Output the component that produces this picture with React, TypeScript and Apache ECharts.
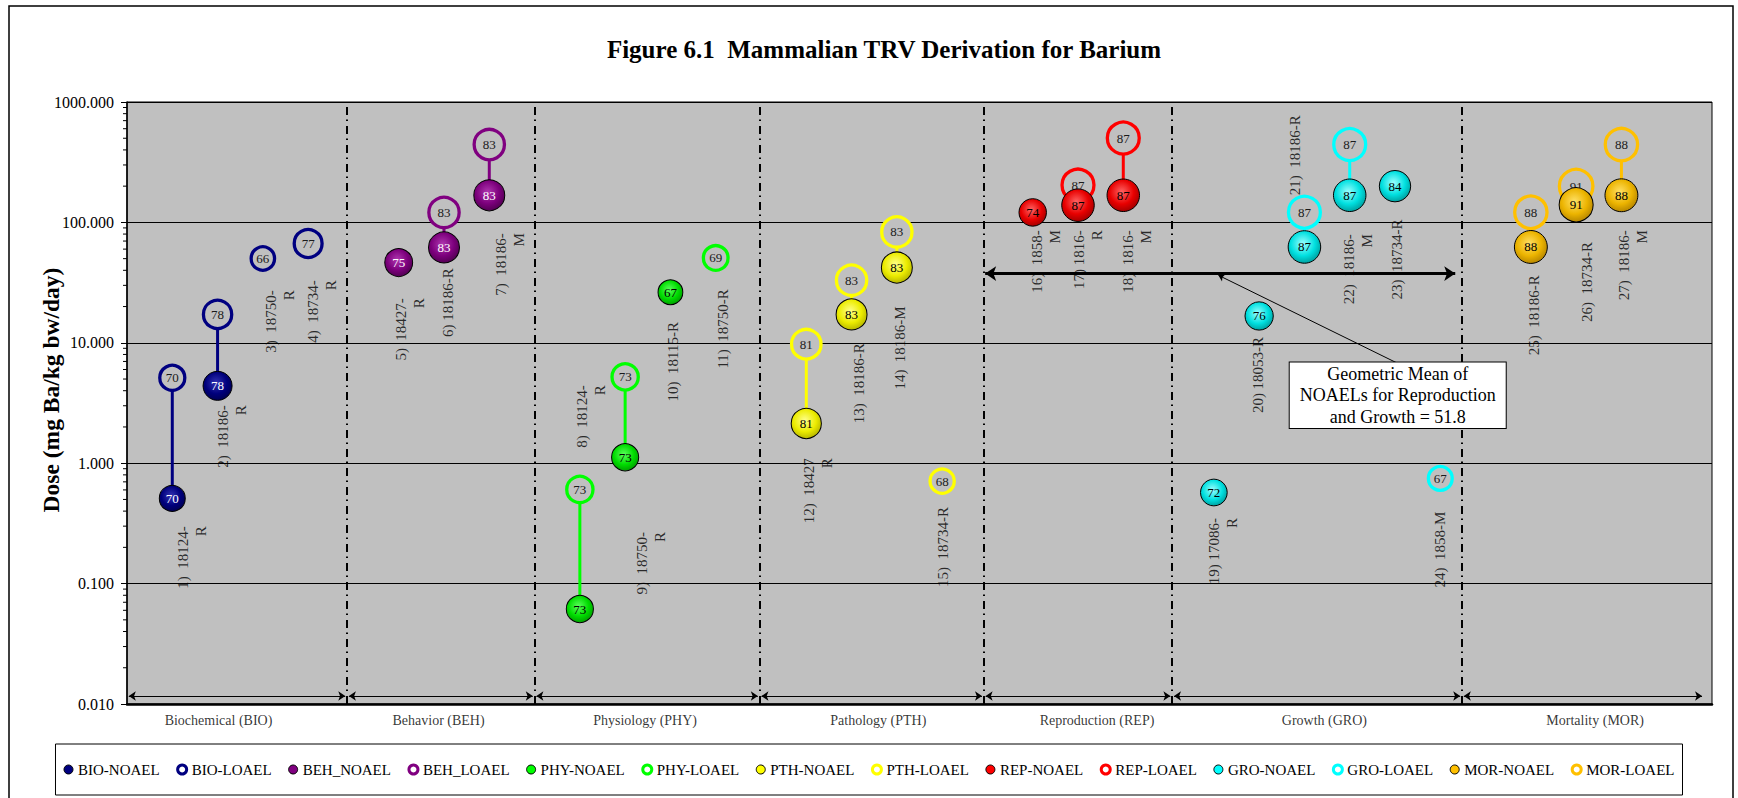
import React, { useEffect, useRef } from "react";
import * as echarts from "echarts";

const FONT = "Liberation Serif, Times New Roman, serif";

const chartTitle = "Figure 6.1  Mammalian TRV Derivation for Barium";
const yAxisTitle = "Dose (mg Ba/kg bw/day)";

// Effect categories
const categoryNames = [
  "Biochemical (BIO)",
  "Behavior (BEH)",
  "Physiology (PHY)",
  "Pathology (PTH)",
  "Reproduction (REP)",
  "Growth (GRO)",
  "Mortality (MOR)",
];
const noaelSeriesNames = ["BIO-NOAEL", "BEH_NOAEL", "PHY-NOAEL", "PTH-NOAEL", "REP-NOAEL", "GRO-NOAEL", "MOR-NOAEL"];
const loaelSeriesNames = ["BIO-LOAEL", "BEH_LOAEL", "PHY-LOAEL", "PTH-LOAEL", "REP-LOAEL", "GRO-LOAEL", "MOR-LOAEL"];
// category boundaries (x units) and label centres
const categoryBounds = [0, 4.86, 9.0, 13.97, 18.92, 23.08, 29.48, 34.82];
const categoryLabelX = [2.02, 6.88, 11.44, 16.59, 21.42, 26.44, 32.42];
const categoryArrowLevel = 0.01165;

// Studies
const studyX = [1, 2, 3, 4, 6, 7, 8, 10, 11, 12, 13, 15, 16, 17, 18, 20, 21, 22, 24, 25, 26, 27, 28, 29, 31, 32, 33];
const studyGroup = [0, 0, 0, 0, 1, 1, 1, 2, 2, 2, 2, 3, 3, 3, 3, 4, 4, 4, 5, 5, 5, 5, 5, 5, 6, 6, 6];
const noaelDose = [0.51, 4.39, null, null, 46.4, 61.9, 168, 0.0615, 1.12, 26.3, null, 2.14, 17.2, 42.2, null, 121, 139, 168, 0.571, 16.7, 62.5, 168, 200, null, 62.5, 140, 168];
const noaelScore = [70, 78, null, null, 75, 83, 83, 73, 73, 67, null, 81, 83, 83, null, 74, 87, 87, 72, 76, 87, 87, 84, null, 88, 91, 88];
const loaelDose = [5.12, 17.2, 50.1, 66.8, null, 121, 443, 0.605, 5.21, null, 50.7, 9.74, 33.1, 83.3, 0.71, null, 204, 502, null, null, 121.5, 443, null, 0.748, 121.5, 200, 443];
const loaelScore = [70, 78, 66, 77, null, 83, 83, 73, 73, null, 69, 81, 83, 83, 68, null, 87, 87, null, null, 87, 87, null, 67, 88, 91, 88];
const studyLabels = [
  "1)  18124-\nR",
  "2)  18186-\nR",
  "3)  18750-\nR",
  "4)  18734-\nR",
  "5)  18427-\nR",
  "6) 18186-R",
  "7)  18186-\nM",
  "8)  18124-\nR",
  "9)  18750-\nR",
  "10)  18115-R",
  "11)  18750-R",
  "12)  18427\nR",
  "13)  18186-R",
  "14)  18186-M",
  "15)  18734-R",
  "16)  1858-\nM",
  "17) 1816-\nR",
  "18)  1816-\nM",
  "19) 17086-\nR",
  "20) 18053-R",
  "21)  18186-R",
  "22)  18186-\nM",
  "23)  18734-R",
  "24)  1858-M",
  "25)  18186-R",
  "26)  18734-R",
  "27)  18186-\nM",
];
const studyLabelX = [1.44, 2.32, 3.38, 4.31, 6.25, 7.09, 8.46, 10.25, 11.57, 12.05, 13.16, 15.26, 16.17, 17.06, 18.02, 20.3, 21.22, 22.31, 24.2, 24.98, 25.8, 27.19, 28.04, 29.0, 31.06, 32.24, 33.26];
const studyLabelTop = [0.3, 3.03, 27.3, 33.1, 23.5, 41.6, 81.3, 4.45, 0.268, 14.9, 27.9, 1.1, 9.93, 20.1, 0.432, 86.1, 86.1, 86.1, 0.35, 11.2, 776, 79.8, 105.6, 0.395, 36.4, 68.8, 86.1];

// Geometric mean annotation
const geoMeanText = "Geometric Mean of\nNOAELs for Reproduction\nand Growth = 51.8";
const geoMeanArrowLevel = 37.6;
const geoMeanArrowRange = [18.95, 29.33];
const geoMeanBoxCenter = [28.06, 3.66];
const geoMeanPointerFrom = [28.04, 6.81];
const geoMeanPointerTo = [24.1, 36.4];

// y axis minor ticks
const minorTickValues = [0.02, 0.03, 0.04, 0.05, 0.06, 0.07, 0.08, 0.09, 0.2, 0.3, 0.4, 0.5, 0.6, 0.7, 0.8, 0.9, 2, 3, 4, 5, 6, 7, 8, 9, 20, 30, 40, 50, 60, 70, 80, 90, 200, 300, 400, 500, 600, 700, 800, 900];

// styles
const ringColors = ["#000080", "#800080", "#00ff00", "#ffff00", "#ff0000", "#00ffff", "#ffc000"];
const sphereLight = ["#3434b4", "#b038b0", "#5cff5c", "#ffff8c", "#ff6464", "#9cffff", "#ffe066"];
const sphereMid = ["#00007c", "#7c007c", "#00dc00", "#ecec00", "#e80000", "#00e0e0", "#ecb400"];
const sphereDark = ["#000050", "#500050", "#009c00", "#b4b400", "#a00000", "#009c9c", "#b48400"];
const noaelTextColor = ["#ffffff", "#ffffff", "#000000", "#000000", "#000000", "#000000", "#000000"];

function buildOption(): any {
  const idxAll = studyX.map((_, i) => i);
  const series: any[] = [];

  series.push({
    type: "custom",
    silent: true,
    clip: false,
    z: 3,
    data: minorTickValues.map((v) => [0, v]),
    renderItem: (_p: any, api: any) => {
      const p = api.coord([api.value(0), api.value(1)]);
      return {
        type: "line",
        shape: { x1: p[0] - 4, y1: p[1], x2: p[0], y2: p[1] },
        style: { stroke: "#000", lineWidth: 1 },
      };
    },
  });

  const pairIdx = idxAll.filter((i) => noaelDose[i] != null && loaelDose[i] != null);
  series.push({
    type: "custom",
    silent: true,
    z: 2,
    data: pairIdx.map((i) => [studyX[i], loaelDose[i], noaelDose[i], studyGroup[i]]),
    renderItem: (_p: any, api: any) => {
      const a = api.coord([api.value(0), api.value(1)]);
      const b = api.coord([api.value(0), api.value(2)]);
      return {
        type: "line",
        shape: { x1: a[0], y1: a[1], x2: b[0], y2: b[1] },
        style: { stroke: ringColors[api.value(3)], lineWidth: 3 },
      };
    },
  });

  ringColors.forEach((col, gi) => {
    const idx = idxAll.filter((i) => studyGroup[i] === gi);
    series.push({
      name: loaelSeriesNames[gi],
      type: "scatter",
      z: 3,
      silent: true,
      emphasis: { disabled: true },
      data: idx.filter((i) => loaelDose[i] != null).map((i) => [studyX[i], loaelDose[i], loaelScore[i]]),
      symbol: "circle",
      symbolSize: (v: number[]) => v[2] * 0.405 - 3.3,
      itemStyle: { color: "#c0c0c0", borderColor: col, borderWidth: 3.3, opacity: 1 },
      label: {
        show: true,
        position: "inside",
        formatter: (p: any) => String(p.value[2]),
        fontSize: 13,
        fontFamily: FONT,
        color: "#1a1a1a",
      },
    });
    series.push({
      name: noaelSeriesNames[gi],
      type: "scatter",
      z: 4,
      silent: true,
      emphasis: { disabled: true },
      data: idx.filter((i) => noaelDose[i] != null).map((i) => [studyX[i], noaelDose[i], noaelScore[i]]),
      symbol: "circle",
      symbolSize: (v: number[]) => v[2] * 0.385 - 1,
      itemStyle: {
        color: new echarts.graphic.RadialGradient(0.45, 0.4, 0.62, [
          { offset: 0, color: sphereLight[gi] },
          { offset: 0.6, color: sphereMid[gi] },
          { offset: 1, color: sphereDark[gi] },
        ]),
        borderColor: "#000",
        borderWidth: 1,
        opacity: 1,
      },
      label: {
        show: true,
        position: "inside",
        formatter: (p: any) => String(p.value[2]),
        fontSize: 13,
        fontFamily: FONT,
        color: noaelTextColor[gi],
      },
    });
  });

  // study labels
  series.push({
    type: "scatter",
    z: 2,
    silent: true,
    emphasis: { disabled: true },
    symbolSize: 1,
    itemStyle: { color: "rgba(0,0,0,0)" },
    data: studyLabels.map((t, i) => ({ name: t, value: [studyLabelX[i], studyLabelTop[i]] })),
    label: {
      show: true,
      position: "inside",
      formatter: "{b}",
      rotate: 90,
      align: "right",
      verticalAlign: "middle",
      fontSize: 15,
      lineHeight: 18,
      fontFamily: FONT,
      color: "#000",
    },
  });

  // category labels + separators
  series.push({
    type: "scatter",
    z: 5,
    silent: true,
    emphasis: { disabled: true },
    symbolSize: 1,
    itemStyle: { color: "rgba(0,0,0,0)" },
    data: categoryNames.map((n, i) => ({ name: n, value: [categoryLabelX[i], 0.01] })),
    label: {
      show: true,
      position: "bottom",
      distance: 9,
      formatter: "{b}",
      fontSize: 14,
      fontFamily: FONT,
      color: "#000",
    },
    markLine: {
      silent: true,
      animation: false,
      symbol: ["none", "none"],
      label: { show: false },
      lineStyle: { type: [8, 5, 1.5, 4.5], width: 2, color: "#000" },
      data: categoryBounds.slice(1, -1).map((b) => ({ xAxis: b })),
    },
  });

  // category range arrows
  series.push({
    type: "scatter",
    z: 5,
    silent: true,
    data: [],
    markLine: {
      silent: true,
      animation: false,
      symbol: ["arrow", "arrow"],
      symbolSize: 7,
      label: { show: false },
      lineStyle: { type: "solid", width: 1, color: "#000" },
      data: categoryBounds.slice(0, -1).map((b, i) => [
        { coord: [b + 0.04, categoryArrowLevel] },
        { coord: [categoryBounds[i + 1] - 0.04, categoryArrowLevel] },
      ]),
    },
  });

  // geometric mean arrow
  series.push({
    type: "scatter",
    z: 6,
    silent: true,
    data: [],
    markLine: {
      silent: true,
      animation: false,
      symbol: ["arrow", "arrow"],
      symbolSize: 11,
      label: { show: false },
      lineStyle: { type: "solid", width: 3, color: "#000" },
      data: [[{ coord: [geoMeanArrowRange[0], geoMeanArrowLevel] }, { coord: [geoMeanArrowRange[1], geoMeanArrowLevel] }]],
    },
  });
  // pointer
  series.push({
    type: "scatter",
    z: 6,
    silent: true,
    data: [],
    markLine: {
      silent: true,
      animation: false,
      symbol: ["none", "arrow"],
      symbolSize: 6,
      label: { show: false },
      lineStyle: { type: "solid", width: 1, color: "#000" },
      data: [[{ coord: geoMeanPointerFrom }, { coord: geoMeanPointerTo }]],
    },
  });
  // box
  series.push({
    type: "scatter",
    z: 7,
    silent: true,
    emphasis: { disabled: true },
    symbolSize: 1,
    itemStyle: { color: "rgba(0,0,0,0)" },
    data: [{ name: geoMeanText, value: geoMeanBoxCenter }],
    label: {
      show: true,
      position: "inside",
      formatter: "{b}",
      fontSize: 18,
      lineHeight: 21.5,
      fontFamily: FONT,
      color: "#000",
      align: "center",
      verticalAlign: "middle",
      width: 200,
      backgroundColor: "#ffffff",
      borderColor: "#000",
      borderWidth: 1,
      opacity: 1,
      padding: [1, 8, 0, 8],
    },
  });

  const legendData = ringColors.flatMap((col, gi) => [
    { name: noaelSeriesNames[gi], icon: "circle", itemStyle: { color: col, borderColor: "#000", borderWidth: 1 } },
    { name: loaelSeriesNames[gi], icon: "circle", itemStyle: { color: "#fff", borderColor: col, borderWidth: 3 } },
  ]);

  return {
    animation: false,
    backgroundColor: "#fff",
    grid: {
      left: 127,
      right: 26,
      top: 102,
      bottom: 94,
      show: true,
      backgroundColor: "#c0c0c0",
      borderColor: "#000",
      borderWidth: 1,
    },
    xAxis: {
      type: "value",
      min: 0,
      max: 35,
      interval: 1,
      axisLine: { show: true, lineStyle: { color: "#000", width: 2.5 } },
      axisTick: { show: false },
      axisLabel: { show: false },
      splitLine: { show: false },
    },
    yAxis: {
      type: "log",
      logBase: 10,
      min: 0.01,
      max: 1000,
      axisLine: { show: true, lineStyle: { color: "#000", width: 1.5 } },
      axisTick: { show: true, length: 6, lineStyle: { color: "#000", width: 1 } },
      axisLabel: {
        margin: 13,
        fontSize: 16,
        fontFamily: FONT,
        color: "#000",
        formatter: (v: number) => Number(v).toFixed(3),
      },
      splitLine: { show: true, lineStyle: { color: "#000", width: 1 } },
    },
    legend: {
      left: "center",
      top: 744,
      orient: "horizontal",
      itemWidth: 9,
      itemHeight: 9,
      itemGap: 16.5,
      padding: [18, 8, 18, 8],
      backgroundColor: "#fff",
      borderColor: "#000",
      borderWidth: 1,
      selectedMode: false,
      textStyle: { fontFamily: FONT, fontSize: 15, color: "#000" },
      data: legendData,
    },
    graphic: [
      {
        type: "rect",
        silent: true,
        z: -10,
        shape: { x: 9, y: 6, width: 1724, height: 800 },
        style: { fill: "none", stroke: "#000", lineWidth: 1.5 },
      },
      {
        type: "text",
        x: 884,
        y: 49,
        silent: true,
        style: {
          text: chartTitle,
          font: `bold 25px ${FONT}`,
          fill: "#000",
          align: "center",
          verticalAlign: "middle",
          textAlign: "center",
          textVerticalAlign: "middle",
        },
      },
      {
        type: "text",
        x: 51,
        y: 390,
        rotation: Math.PI / 2,
        silent: true,
        style: {
          text: yAxisTitle,
          font: `bold 23.5px ${FONT}`,
          fill: "#000",
          align: "center",
          verticalAlign: "middle",
          textAlign: "center",
          textVerticalAlign: "middle",
        },
      },
    ],
    series,
  };
}

export default function App() {
  const ref = useRef<HTMLDivElement>(null);
  useEffect(() => {
    document.body.style.margin = "0";
    const chart = echarts.init(ref.current as HTMLDivElement, undefined, { renderer: "svg" });
    chart.setOption(buildOption());
    return () => chart.dispose();
  }, []);
  return <div ref={ref} style={{ width: 1738, height: 798 }} />;
}
